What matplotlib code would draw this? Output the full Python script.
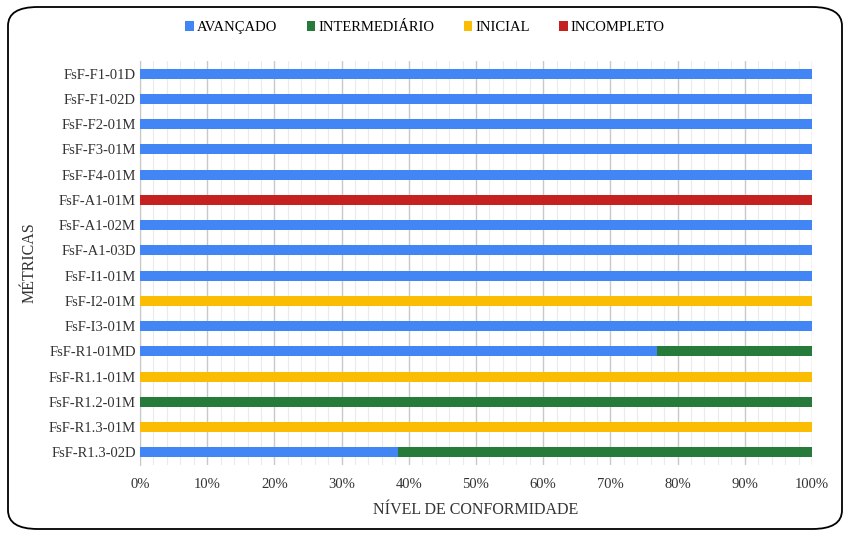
import matplotlib.pyplot as plt
from matplotlib.patches import FancyBboxPatch
from matplotlib.ticker import MultipleLocator, PercentFormatter

plt.rcParams['font.family'] = ['Liberation Serif', 'DejaVu Serif']

metricas = ["FsF-F1-01D", "FsF-F1-02D", "FsF-F2-01M", "FsF-F3-01M", "FsF-F4-01M",
            "FsF-A1-01M", "FsF-A1-02M", "FsF-A1-03D", "FsF-I1-01M", "FsF-I2-01M",
            "FsF-I3-01M", "FsF-R1-01MD", "FsF-R1.1-01M", "FsF-R1.2-01M",
            "FsF-R1.3-01M", "FsF-R1.3-02D"]
avancado      = [100, 100, 100, 100, 100, 0, 100, 100, 100, 0, 100, 76.92, 0, 0, 0, 38.46]
intermediario = [0, 0, 0, 0, 0, 0, 0, 0, 0, 0, 0, 23.08, 0, 100, 0, 61.54]
inicial       = [0, 0, 0, 0, 0, 0, 0, 0, 0, 100, 0, 0, 100, 0, 100, 0]
incompleto    = [0, 0, 0, 0, 0, 100, 0, 0, 0, 0, 0, 0, 0, 0, 0, 0]

series = [("AVANÇADO", avancado, "#4285f4"),
          ("INTERMEDIÁRIO", intermediario, "#267b3a"),
          ("INICIAL", inicial, "#fbbc04"),
          ("INCOMPLETO", incompleto, "#c5221f")]

fig = plt.figure(figsize=(8.5, 5.35), dpi=100)
ax = fig.add_axes([140/850, 1 - 465/535, 672/850, 404/535])

y = range(len(metricas))
left = [0] * len(metricas)
for nome, vals, cor in series:
    ax.barh(y, vals, left=left, height=0.4, color=cor, label=nome, zorder=3)
    left = [a + b for a, b in zip(left, vals)]

ax.set_ylim(len(metricas) - 0.5, -0.5)
ax.set_yticks(list(y))
ax.set_yticklabels(metricas, fontsize=10.5, color="#333333")
ax.set_xlim(0, 100)
ax.xaxis.set_major_locator(MultipleLocator(10))
ax.xaxis.set_minor_locator(MultipleLocator(2))
ax.xaxis.set_major_formatter(PercentFormatter(decimals=0))
ax.tick_params(axis='x', which='both', length=0, labelsize=10.5, colors="#333333", pad=9)
ax.tick_params(axis='y', length=0, pad=3)
ax.grid(axis='x', which='major', color="#c8c8c8", linewidth=1, zorder=0)
ax.grid(axis='x', which='minor', color="#ebebeb", linewidth=0.8, zorder=0)
for s in ["top", "right", "bottom"]:
    ax.spines[s].set_visible(False)
ax.spines["left"].set_color("#c8c8c8")

ax.set_xlabel("NÍVEL DE CONFORMIDADE", fontsize=11.5, color="#333333", labelpad=8)
ax.set_ylabel("MÉTRICAS", fontsize=11.5, color="#333333", labelpad=8)

fig.legend(loc="upper center", bbox_to_anchor=(0.5, 0.985), ncol=4, frameon=False,
           fontsize=10.5, handlelength=0.6, handleheight=0.6, handletextpad=0.2,
           columnspacing=2.0)

frame = FancyBboxPatch((8/850, 6/535), 834/850, 522/535,
                       boxstyle="round,pad=0,rounding_size=0.035",
                       transform=fig.transFigure, facecolor="none",
                       edgecolor="black", linewidth=1.3)
fig.patches.append(frame)

fig.savefig("out.png", dpi=100)
